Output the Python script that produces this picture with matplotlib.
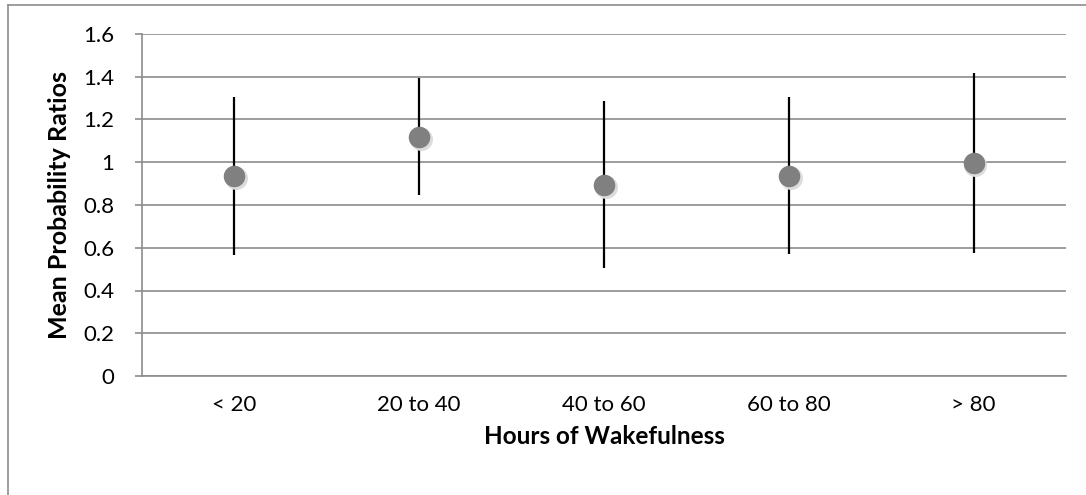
import numpy as np
import matplotlib
matplotlib.use("Agg")
import matplotlib.pyplot as plt
from matplotlib.lines import Line2D

plt.rcParams['font.family'] = ['Lato', 'DejaVu Sans']

# données
categories = ["< 20", "20 to 40", "40 to 60", "60 to 80", "> 80"]
moyennes = [0.937, 1.12, 0.894, 0.936, 0.997]
bornes_hautes = [1.307, 1.393, 1.288, 1.307, 1.416]
bornes_basses = [0.566, 0.847, 0.504, 0.569, 0.577]

fig = plt.figure(figsize=(10.86, 4.95), dpi=100)
ax = fig.add_axes([142 / 1086, 119 / 495, 924 / 1086, 342 / 495])

x = np.arange(len(categories))
moy = np.array(moyennes)
err = [moy - np.array(bornes_basses), np.array(bornes_hautes) - moy]

# barres d'erreur
ax.errorbar(x, moy, yerr=err, fmt='none', ecolor='black', elinewidth=1.6,
            capsize=0, zorder=3)
# ombre légère sous les points
ax.plot(x + 0.01, moy - 0.01, 'o', color='#dcdcdc', markersize=16.5,
        markeredgewidth=0, zorder=3.5)
ax.plot(x, moy, 'o', color='#808080', markersize=15.5, markeredgewidth=0,
        zorder=4)

ax.set_xlim(-0.5, 4.5)
ax.set_ylim(0, 1.6)
ax.set_yticks(np.arange(0, 1.61, 0.2))
ax.set_yticklabels(['0', '0.2', '0.4', '0.6', '0.8', '1', '1.2', '1.4', '1.6'])
ax.set_xticks(x)
ax.set_xticklabels(categories)

ax.grid(axis='y', color='#8c8c8c', linewidth=1.2)
ax.set_axisbelow(True)
for s in ['top', 'right']:
    ax.spines[s].set_visible(False)
for s in ['left', 'bottom']:
    ax.spines[s].set_color('#8c8c8c')
    ax.spines[s].set_linewidth(1.2)

ax.tick_params(axis='y', length=5, width=1.2, color='#8c8c8c', pad=15,
               labelsize=16)
ax.tick_params(axis='x', length=0, pad=14, labelsize=16)

ax.set_ylabel("Mean Probability Ratios", fontsize=18, fontweight='bold',
              va='center')
ax.set_xlabel("Hours of Wakefulness", fontsize=17.5, fontweight='bold',
              va='center')
ax.yaxis.set_label_coords((60 - 142) / 924, 0.5)
ax.xaxis.set_label_coords(0.5, (376 - 436) / 342)

# cadre extérieur du graphique
fig.add_artist(Line2D([8 / 1086, 8 / 1086], [0, 1 - 5 / 495],
                      transform=fig.transFigure, color='#8c8c8c', lw=1.2))
fig.add_artist(Line2D([8 / 1086, 1], [1 - 5 / 495, 1 - 5 / 495],
                      transform=fig.transFigure, color='#8c8c8c', lw=1.2))

fig.savefig("out.png", dpi=100)
